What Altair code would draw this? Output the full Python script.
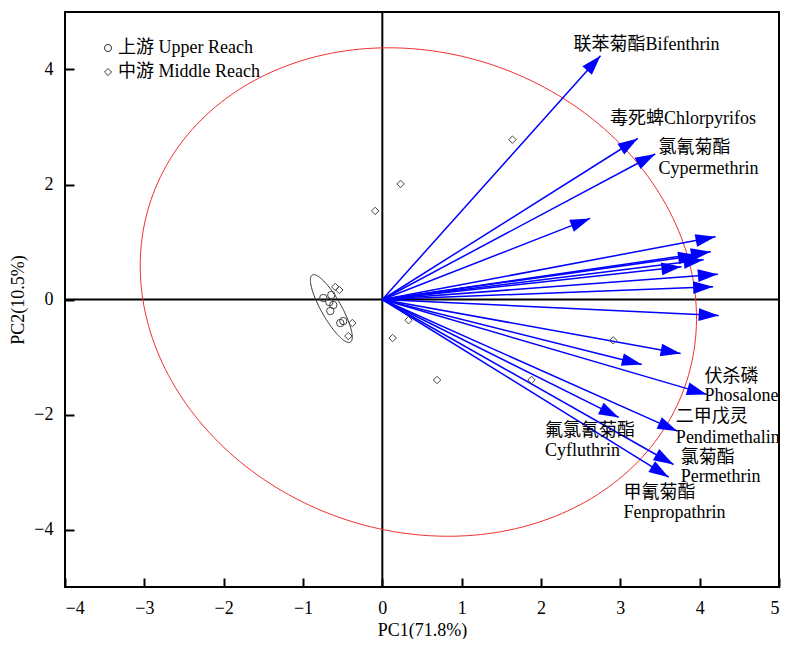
import numpy as np
import pandas as pd
import altair as alt

# ---------------- data ----------------
W, H = 714, 575
x_domain = [-4, 5]
y_domain = [-5, 5]
x_ticks = [-4, -3, -2, -1, 0, 1, 2, 3, 4, 5]
y_ticks = [-4, -2, 0, 2, 4]

# loading arrow tips (PC1, PC2)
arrow_pc1 = [2.75, 3.22, 3.44, 2.62, 4.20, 4.14, 3.98, 4.05, 3.77, 4.23, 4.17,
             4.24, 3.76, 3.27, 4.09, 3.72, 2.98, 3.67, 3.61]
arrow_pc2 = [4.24, 2.80, 2.53, 1.41, 1.09, 0.83, 0.77, 0.69, 0.57, 0.44, 0.22,
             -0.28, -0.94, -1.13, -1.65, -2.29, -2.05, -2.87, -3.09]

# sample scores
upper_pc1 = [-0.744, -0.643, -0.668, -0.618, -0.656, -0.530, -0.492]
upper_pc2 = [0.026, 0.078, -0.044, -0.096, -0.200, -0.409, -0.375]
middle_pc1 = [-0.593, -0.542, -0.378, -0.429, 1.64, 0.23, -0.09, 0.33, 0.13, 2.91, 0.69, 1.88]
middle_pc2 = [0.218, 0.166, -0.409, -0.636, 2.78, 2.01, 1.54, -0.36, -0.67, -0.71, -1.40, -1.40]
reach_names = ["上游 Upper Reach", "中游 Middle Reach"]

# arrow labels
label_text = ["联苯菊酯Bifenthrin", "毒死蜱Chlorpyrifos", "氯氰菊酯", "Cypermethrin",
              "伏杀磷", "Phosalone", "二甲戊灵", "Pendimethalin", "氟氯氰菊酯", "Cyfluthrin",
              "氯菊酯", "Permethrin", "甲氰菊酯", "Fenpropathrin"]
label_pc1 = [2.41, 2.87, 3.48, 3.48, 4.06, 4.06, 3.70, 3.70, 2.05, 2.05, 3.76, 3.76, 3.04, 3.04]
label_pc2 = [4.43, 3.14, 2.63, 2.27, -1.34, -1.67, -2.04, -2.40, -2.28, -2.63, -2.75, -3.09, -3.36, -3.71]

# ellipses: centre and two conjugate semi-axis vectors (data units)
big_center = [0.454, 0.130]
big_u = [3.356, -1.657]
big_v = [-1.015, -3.911]
small_center = [-0.643, -0.157]
small_u = [0.240, -0.584]
small_v = [-0.110, -0.085]

FONT = "Times New Roman, Liberation Serif, Noto Sans CJK SC"
BLUE = "#0000ff"
ARROW_PATH = "M 0 0 L -1 -0.32 L -1 0.32 Z"

xs = alt.Scale(domain=x_domain, nice=False, zero=False)
ys = alt.Scale(domain=y_domain, nice=False, zero=False)


def ellipse_df(center, u, v, n=240):
    t = np.linspace(0, 2 * np.pi, n)
    return pd.DataFrame({
        "i": np.arange(n),
        "x": center[0] + u[0] * np.cos(t) + v[0] * np.sin(t),
        "y": center[1] + u[1] * np.cos(t) + v[1] * np.sin(t),
    })


arrows_df = pd.DataFrame({"pc1": arrow_pc1, "pc2": arrow_pc2})
arrows_df["o"] = 0.0
arrows_df["angle"] = np.degrees(np.arctan2(-arrows_df["pc2"] * H / 10.0,
                                           arrows_df["pc1"] * W / 9.0)) % 360

samples_df = pd.DataFrame({
    "pc1": upper_pc1 + middle_pc1,
    "pc2": upper_pc2 + middle_pc2,
    "reach": [reach_names[0]] * len(upper_pc1) + [reach_names[1]] * len(middle_pc1),
})

labels_df = pd.DataFrame({"t": label_text, "x": label_pc1, "y": label_pc2})

# ---------------- axes ----------------
bottom_axis = alt.Axis(orient="bottom", values=x_ticks, ticks=False, domain=False, grid=False,
                       labelFont=FONT, labelFontSize=18, labelColor="black", labelPadding=12,
                       title="PC1(71.8%)", titleFont=FONT, titleFontSize=18,
                       titleFontWeight="normal", titleColor="black", titlePadding=4)
left_axis = alt.Axis(orient="left", values=y_ticks, ticks=False, domain=False, grid=False,
                     labelFont=FONT, labelFontSize=18, labelColor="black", labelPadding=12,
                     title="PC2(10.5%)", titleFont=FONT, titleFontSize=18,
                     titleFontWeight="normal", titleColor="black", titlePadding=6)
top_tick_axis = alt.Axis(orient="top", offset=-H, values=x_ticks, labels=False, domain=False,
                         grid=False, ticks=True, tickSize=9, tickWidth=2, tickColor="black",
                         title=None)
right_tick_axis = alt.Axis(orient="right", offset=-W, values=y_ticks, labels=False, domain=False,
                           grid=False, ticks=True, tickSize=9, tickWidth=2, tickColor="black",
                           title=None)

# ---------------- layers ----------------
zero_v = alt.Chart(pd.DataFrame({"v": [0.0]})).mark_rule(color="black", strokeWidth=2).encode(
    x=alt.X("v:Q", scale=xs, axis=bottom_axis))
zero_h = alt.Chart(pd.DataFrame({"v": [0.0]})).mark_rule(color="black", strokeWidth=2).encode(
    y=alt.Y("v:Q", scale=ys, axis=left_axis))

big_ell = alt.Chart(ellipse_df(big_center, big_u, big_v)).mark_line(
    color="#f03030", strokeWidth=1).encode(
    x=alt.X("x:Q", scale=xs, axis=None), y=alt.Y("y:Q", scale=ys, axis=None),
    order=alt.Order("i:Q"))
small_ell = alt.Chart(ellipse_df(small_center, small_u, small_v, 120)).mark_line(
    color="#333333", strokeWidth=1).encode(
    x=alt.X("x:Q", scale=xs, axis=None), y=alt.Y("y:Q", scale=ys, axis=None),
    order=alt.Order("i:Q"))

lines = alt.Chart(arrows_df).mark_rule(color=BLUE, strokeWidth=1.5).encode(
    x=alt.X("o:Q", scale=xs, axis=None), y=alt.Y("o:Q", scale=ys, axis=None),
    x2="pc1:Q", y2="pc2:Q")
heads = alt.Chart(arrows_df).mark_point(shape=ARROW_PATH, filled=True, color=BLUE,
                                        size=1600, opacity=1, strokeWidth=0).encode(
    x=alt.X("pc1:Q", scale=xs, axis=None), y=alt.Y("pc2:Q", scale=ys, axis=None),
    angle=alt.Angle("angle:Q", scale=None))

points = alt.Chart(samples_df).mark_point(filled=False, color="#444444", strokeWidth=1,
                                          size=55, opacity=1).encode(
    x=alt.X("pc1:Q", scale=xs, axis=top_tick_axis),
    y=alt.Y("pc2:Q", scale=ys, axis=right_tick_axis),
    shape=alt.Shape("reach:N",
                    scale=alt.Scale(domain=reach_names, range=["circle", "diamond"]),
                    legend=alt.Legend(orient="none", legendX=34, legendY=27, title=None,
                                      labelFont=FONT, labelFontSize=18, labelColor="black",
                                      labelOffset=1, rowPadding=6, symbolSize=50,
                                      symbolStrokeWidth=1, symbolStrokeColor="#333333",
                                      symbolFillColor="transparent")))

texts = alt.Chart(labels_df).mark_text(align="left", baseline="middle", font=FONT,
                                       fontSize=18, color="black").encode(
    x=alt.X("x:Q", scale=xs, axis=None), y=alt.Y("y:Q", scale=ys, axis=None), text="t:N")

chart = alt.layer(zero_v, zero_h, big_ell, small_ell, lines, heads, points, texts).resolve_axis(
    x="independent", y="independent").properties(
    width=W, height=H,
    autosize=alt.AutoSizeParams(type="none"),
    padding={"left": 57, "top": 4, "right": 2, "bottom": 52},
).configure_view(stroke="black", strokeWidth=2)

chart.save("out.html", embed_options={"renderer": "svg", "actions": False})
